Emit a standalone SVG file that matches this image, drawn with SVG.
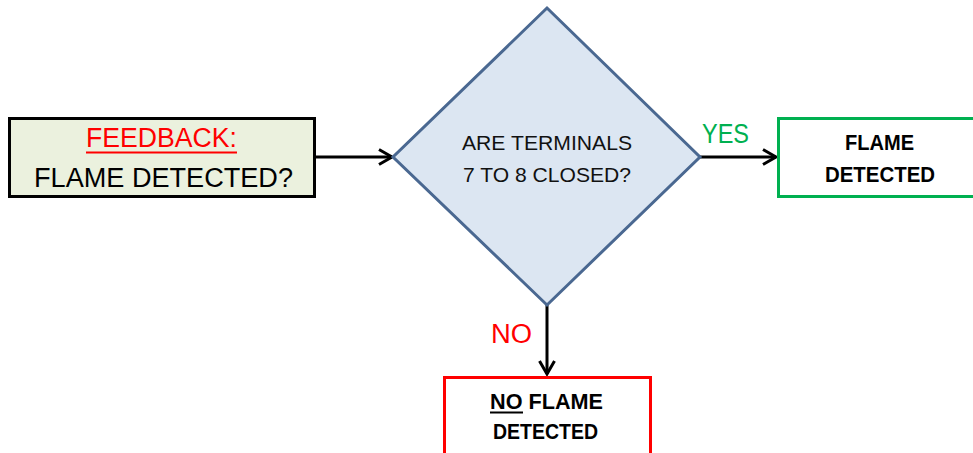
<svg xmlns="http://www.w3.org/2000/svg" width="973" height="453" viewBox="0 0 973 453">
<style>
text{font-family:"Liberation Sans",Arial,sans-serif;text-anchor:middle}
.n{font-size:27px}
.d{font-size:21px;fill:#111}
.b{font-size:22px;font-weight:bold;fill:#000}
.conn{stroke:#000;stroke-width:3;fill:none}
</style>
<defs>
<marker id="ah" markerUnits="userSpaceOnUse" markerWidth="18" markerHeight="20" refX="15" refY="9" orient="auto">
<path d="M2,1.5 L15,9 L2,16.5" fill="none" stroke="#000" stroke-width="3" stroke-linejoin="miter"/>
</marker>
</defs>
<rect width="973" height="453" fill="#fff"/>
<g id="connectors">
<line class="conn" x1="315" y1="157" x2="392" y2="157" marker-end="url(#ah)"/>
<line class="conn" x1="700" y1="157" x2="776" y2="157" marker-end="url(#ah)"/>
<line class="conn" x1="547" y1="305" x2="547" y2="374" marker-end="url(#ah)"/>
<text class="n" x="725.5" y="143" fill="#00b050" textLength="47" lengthAdjust="spacingAndGlyphs">YES</text>
<text class="n" x="511.5" y="343" fill="#ff0000" textLength="41" lengthAdjust="spacingAndGlyphs">NO</text>
</g>
<g id="feedback">
<rect x="9.5" y="118.5" width="305" height="78" fill="#ebf1de" stroke="#000" stroke-width="3"/>
<text class="n" x="161.5" y="147" fill="#ff0000" textLength="151" lengthAdjust="spacingAndGlyphs">FEEDBACK:</text>
<line x1="86" y1="152.5" x2="237" y2="152.5" stroke="#ff0000" stroke-width="2"/>
<text class="n" x="163.5" y="187" fill="#000" textLength="259" lengthAdjust="spacingAndGlyphs">FLAME DETECTED?</text>
</g>
<g id="decision">
<polygon points="547,8 700,157 547,305 393,157" fill="#dce6f2" stroke="#4a6891" stroke-width="3" stroke-linejoin="miter"/>
<text class="d" x="547" y="149.5" textLength="170" lengthAdjust="spacingAndGlyphs">ARE TERMINALS</text>
<text class="d" x="547" y="181.5" textLength="168" lengthAdjust="spacingAndGlyphs">7 TO 8 CLOSED?</text>
</g>
<g id="flame-detected">
<rect x="778.5" y="118.5" width="210" height="78" fill="#fff" stroke="#00b050" stroke-width="3"/>
<text class="b" x="879.5" y="149.5" textLength="69" lengthAdjust="spacingAndGlyphs">FLAME</text>
<text class="b" x="880" y="181.5" textLength="110" lengthAdjust="spacingAndGlyphs">DETECTED</text>
</g>
<g id="no-flame-detected">
<rect x="444.5" y="377.5" width="206" height="90" fill="#fff" stroke="#ff0000" stroke-width="3"/>
<text class="b" x="546.5" y="408.5" textLength="113" lengthAdjust="spacingAndGlyphs">NO FLAME</text>
<line x1="490" y1="412.5" x2="523" y2="412.5" stroke="#000" stroke-width="2"/>
<text class="b" x="545.5" y="438.5" textLength="105" lengthAdjust="spacingAndGlyphs">DETECTED</text>
</g>
</svg>
